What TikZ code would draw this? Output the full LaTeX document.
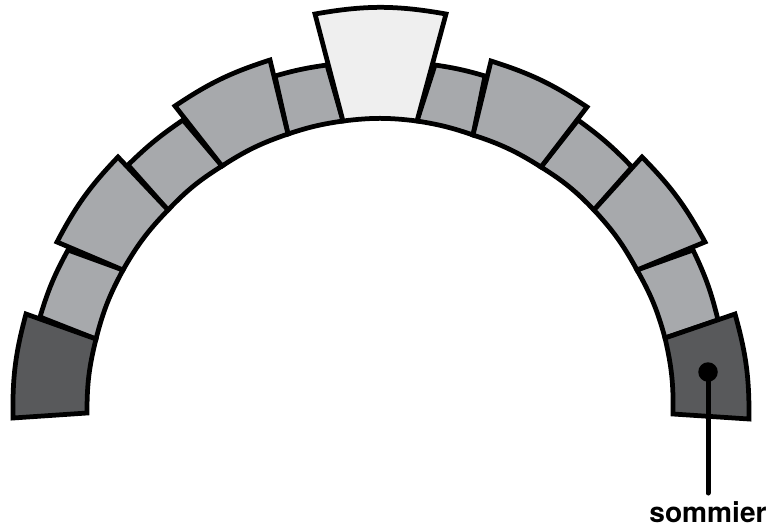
\documentclass[tikz,border=0pt]{standalone}
\usepackage{fontspec}
\setmainfont{TeX Gyre Heros}
\usepackage{tikz}
\usetikzlibrary{positioning}

\definecolor{sommiergray}{HTML}{58595B}
\definecolor{stonegray}{HTML}{A7A9AC}
\definecolor{keygray}{HTML}{EFEFEF}

\tikzset{
    stone/.style={draw=black, line width=0.095cm, line join=miter, fill=#1},
    leader/.style={line width=0.1cm, line cap=round},
}

\begin{document}
\begin{tikzpicture}[x=0.02cm,y=-0.02cm]
        \useasboundingbox (0,0) rectangle (770,528);

        % small stones, left
        \draw[stone=stonegray] (40,317) to[bend left=6] (68,250) -- (123,270) to[bend right=7] (96,339) -- cycle;
        \draw[stone=stonegray] (128,165) to[bend left=5] (183,120) -- (222,166) to[bend right=7] (168,210) -- cycle;
        \draw[stone=stonegray] (275,76) to[bend left=4] (327,65) -- (343,121) to[bend right=5] (288,134) -- cycle;

        % small stones, right
        \draw[stone=stonegray] (435,65) to[bend left=4] (485,76) -- (473,135) to[bend right=5] (417,121) -- cycle;
        \draw[stone=stonegray] (578,120) to[bend left=5] (632,167) -- (594,210) to[bend right=7] (541,167) -- cycle;
        \draw[stone=stonegray] (693,250) to[bend left=6] (718,320) -- (665,338) to[bend right=7] (637,270) -- cycle;

        % large stones
        \draw[stone=stonegray] (57,242) to[bend left=8] (118,157) -- (168,210) to[bend right=7] (123,270) -- cycle;
        \draw[stone=stonegray] (175,106) to[bend left=8] (270,60) -- (288,134) to[bend right=7] (222,166) -- cycle;
        \draw[stone=stonegray] (491,61) to[bend left=8] (587,107) -- (541,167) to[bend right=7] (473,135) -- cycle;
        \draw[stone=stonegray] (642,157) to[bend left=8] (705,242) -- (637,270) to[bend right=7] (594,210) -- cycle;

        % keystone
        \draw[stone=keygray] (315,14) to[bend left=10] (446,14) -- (417,121) to[bend right=7] (343,121) -- cycle;

        % springers
        \draw[stone=sommiergray] (13,418) to[bend left=8] (26,314) -- (96,339) to[bend right=7] (87,413) -- cycle;
        \draw[stone=sommiergray] (735,314) to[bend left=8] (749,419) -- (673,414) to[bend right=7] (665,338) -- cycle;

        % label
        \node[circle, fill=black, inner sep=0pt, minimum size=0.39cm] (dot) at (708,372) {};
        \coordinate (tip) at (708,493);
        \node[anchor=base, inner sep=0pt, font=\fontsize{16}{18}\selectfont\bfseries] (sommier) at (708,522) {sommier};
        \draw[leader] (dot.center) -- (tip);
    \end{tikzpicture}
\end{document}
